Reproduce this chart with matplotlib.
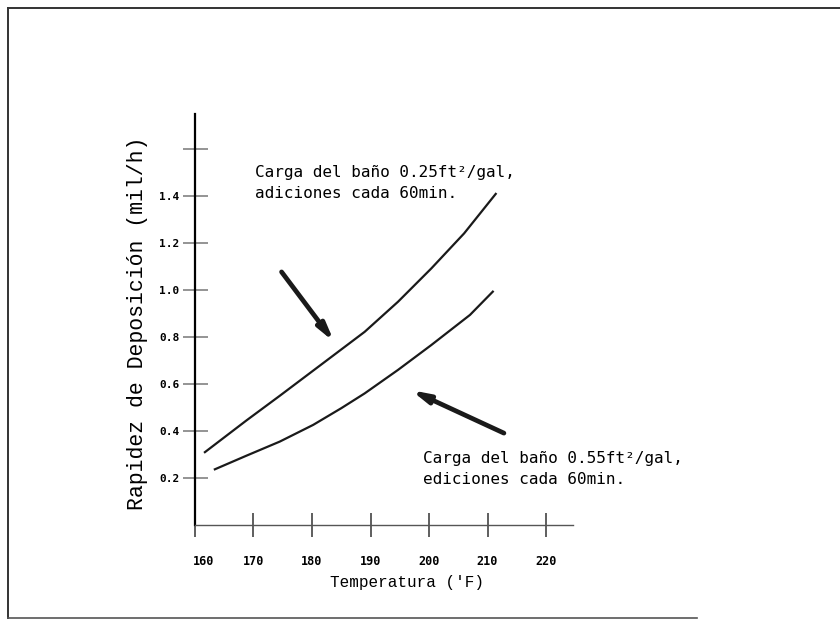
import matplotlib.pyplot as plt
from matplotlib.lines import Line2D
from matplotlib.transforms import ScaledTranslation

# values
temp_025 = [161.7, 168.8, 174.5, 183.3, 189.0, 194.7, 200.4, 206.0, 211.4]
rate_025 = [0.31, 0.445, 0.55, 0.715, 0.822, 0.950, 1.092, 1.241, 1.409]

temp_055 = [163.4, 168.8, 174.5, 180.2, 185.0, 189.0, 194.7, 200.4, 207.0, 210.9]
rate_055 = [0.237, 0.295, 0.355, 0.426, 0.497, 0.560, 0.660, 0.766, 0.894, 0.993]

x_ticks = [160, 170, 180, 190, 200, 210, 220]
y_ticks = [0.2, 0.4, 0.6, 0.8, 1.0, 1.2, 1.4, 1.6]
y_tick_labels = ["0.2", "0.4", "0.6", "0.8", "1.0", "1.2", "1.4", ""]

label_025 = ["Carga del baño 0.25ft²/gal,", "adiciones cada 60min."]
label_055 = ["Carga del baño 0.55ft²/gal,", "ediciones cada 60min."]

mono = "DejaVu Sans Mono"
courier = "Liberation Mono"

fig = plt.figure(figsize=(8.4, 6.25), dpi=100)
ax = fig.add_axes([0.2321, 0.16, 0.45, 0.6576])

ax.plot(temp_025, rate_025, color="#1a1a1a", lw=1.6)
ax.plot(temp_055, rate_055, color="#1a1a1a", lw=1.6)

ax.set_xlim(160, 224.6)
ax.set_ylim(0, 1.749)

ax.spines["top"].set_visible(False)
ax.spines["right"].set_visible(False)
ax.spines["left"].set_linewidth(1.6)
ax.spines["bottom"].set_color("#555555")
ax.spines["bottom"].set_linewidth(1.0)

ax.set_xticks(x_ticks)
ax.set_xticklabels([str(t) for t in x_ticks], fontfamily=mono,
                   fontweight="bold", fontsize=8.5)
ax.set_yticks(y_ticks)
ax.set_yticklabels(y_tick_labels, fontfamily=mono, fontweight="bold",
                   fontsize=8)
ax.tick_params(axis="x", direction="inout", length=17, width=1.1,
               color="#333333", pad=13)
ax.tick_params(axis="y", direction="inout", length=18, width=1.1,
               color="#777777", pad=2)

# the 160 label sits a little right of the axis corner
first = ax.get_xticklabels()[0]
first.set_transform(first.get_transform()
                    + ScaledTranslation(0.09, 0, fig.dpi_scale_trans))

ax.set_xlabel("Temperatura ('F)", fontfamily=courier, fontsize=11.5)
ax.xaxis.set_label_coords(0.561, -0.122)
ax.xaxis.label.set_va("top")
ax.set_ylabel("Rapidez de Deposición (mil/h)", fontfamily=courier,
              fontsize=15.5)
ax.yaxis.set_label_coords(-0.123, 0.49)

fig.text(0.3036, 0.7248, label_025[0], fontfamily=mono, fontsize=11.5,
         va="center")
fig.text(0.3036, 0.6912, label_025[1], fontfamily=mono, fontsize=11.5,
         va="center")
fig.text(0.5036, 0.2672, label_055[0], fontfamily=mono, fontsize=11.5,
         va="center")
fig.text(0.5036, 0.232, label_055[1], fontfamily=mono, fontsize=11.5,
         va="center")

arrow = dict(arrowstyle="-|>,head_length=1.0,head_width=0.25", lw=3.4,
             color="#1a1a1a", shrinkA=0, shrinkB=0)
ax.annotate("", xy=(183.8, 0.779), xytext=(174.8, 1.077), arrowprops=arrow)
ax.annotate("", xy=(196.9, 0.574), xytext=(212.8, 0.391), arrowprops=arrow)

# page border of the scan
fig.add_artist(Line2D([0.0095, 1.0], [0.987, 0.987], color="#333333", lw=1.4))
fig.add_artist(Line2D([0.0095, 0.0095], [0.0112, 0.987], color="#333333", lw=1.4))
fig.add_artist(Line2D([0.0095, 0.83], [0.0112, 0.0112], color="#555555", lw=1.2))

fig.savefig("out.png", dpi=100)
